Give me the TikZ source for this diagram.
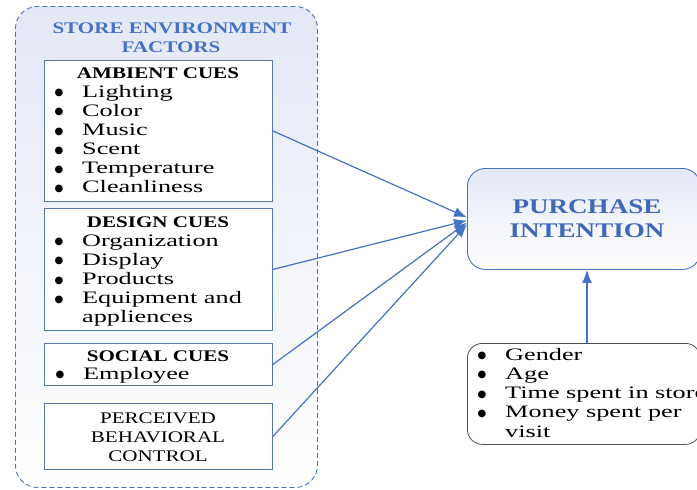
\documentclass[tikz,border=0pt]{standalone}
\usepackage{fontspec}
\setmainfont[FakeStretch=1.3]{Liberation Serif}
\newfontfamily\itemfont[FakeStretch=1.5]{Liberation Serif}
\newfontfamily\symfont{DejaVu Sans}
\usetikzlibrary{arrows.meta,calc}

\definecolor{accent}{HTML}{4472C4}
\definecolor{titleblue}{HTML}{3F68B5}
\definecolor{framecol}{HTML}{5676B3}
\definecolor{lavender}{HTML}{E4E8F6}
\definecolor{demoedge}{HTML}{505050}

\tikzset{
  cuebox/.style={draw=framecol, line width=0.9pt, fill=white, rectangle,
    anchor=north west, inner sep=0pt},
  heading/.style={anchor=base, inner sep=0pt, font=\fontsize{16.2}{19}\bfseries\selectfont},
  item/.style={anchor=base west, inner sep=0pt, font=\fontsize{17.5}{19.2}\itemfont},
  plain/.style={anchor=base, inner sep=0pt, font=\fontsize{16.2}{19}\selectfont},
  bigtitle/.style={anchor=base, inner sep=0pt, text=titleblue,
    font=\fontsize{20.8}{24}\bfseries\selectfont},
  grouptitle/.style={anchor=base, inner sep=0pt, text=accent,
    font=\fontsize{16.2}{19}\bfseries\selectfont},
  link/.style={draw=accent, line width=1.2pt, -{Latex[length=13pt,width=10pt]}},
}
% bullet point followed by its text
\newcommand{\bul}[1]{\makebox[25pt][l]{\hspace{-2.5pt}\raisebox{1.2pt}{\fontsize{10}{10}\symfont ●}}#1}

\begin{document}
\begin{tikzpicture}[x=1pt,y=-1pt]
\useasboundingbox (0,0) rectangle (697,490);
\clip (0,0) rectangle (697,490);

% group frame
\node[draw=accent, dashed, dash pattern=on 5pt off 3pt, line width=0.9pt,
  rounded corners=22pt, top color=lavender, bottom color=white,
  minimum width=302pt, minimum height=481pt, anchor=north west, inner sep=0pt]
  (group) at (15,6) {};
\node[grouptitle] (gt1) at (172,33) {STORE ENVIRONMENT};
\node[grouptitle] (gt2) at (171,52) {FACTORS};

% ambient cues
\node[cuebox, minimum width=228pt, minimum height=141pt] (ambient) at (44,60) {};
\node[heading] (ambh) at (158,78) {AMBIENT CUES};
\foreach \t [count=\i] in {Lighting,Color,Music,Scent,Temperature,Cleanliness}
  \node[item] (amb\i) at (57,{97+19.1*(\i-1)}) {\bul{\t}};

% design cues
\node[cuebox, minimum width=228pt, minimum height=122pt] (design) at (44,208) {};
\node[heading] (desh) at (158,227) {DESIGN CUES};
\foreach \t [count=\i] in {Organization,Display,Products,Equipment and}
  \node[item] (des\i) at (57,{246+19.1*(\i-1)}) {\bul{\t}};
\node[item] (des5) at (82,322) {appliences};

% social cues
\node[cuebox, minimum width=228pt, minimum height=42pt] (social) at (44,343) {};
\node[heading] (soch) at (158,361) {SOCIAL CUES};
\node[item] (soc1) at (58,379) {\bul{Employee}};

% perceived behavioral control
\node[cuebox, minimum width=228pt, minimum height=66pt] (pbc) at (44,403) {};
\node[plain] (pbc1) at (158,423) {PERCEIVED};
\node[plain] (pbc2) at (158,442) {BEHAVIORAL};
\node[plain] (pbc3) at (158,461) {CONTROL};

% outcome
\node[draw=accent, line width=0.9pt, rounded corners=18pt, top color=lavender,
  bottom color=white, minimum width=233pt, minimum height=101pt,
  anchor=north west, inner sep=0pt] (purchase) at (467,168) {};
\node[bigtitle] (pt1) at (587,213) {PURCHASE};
\node[bigtitle] (pt2) at (587,237) {INTENTION};

% control variables
\node[draw=demoedge, line width=0.8pt, rounded corners=15pt, fill=white,
  minimum width=233pt, minimum height=101pt, anchor=north west, inner sep=0pt]
  (demo) at (467,343) {};
\foreach \t [count=\i] in {Gender,Age,Time spent in store,Money spent per}
  \node[item] (dem\i) at (480,{360+19.1*(\i-1)}) {\bul{\t}};
\node[item] (dem5) at (505,437) {visit};

% connectors
\draw[link] (ambient.east) -- ([yshift=1.5pt]purchase.west);
\draw[link] (design.east) -- ([yshift=-1.5pt]purchase.west);
\draw[link] (social.east) -- ([yshift=-3.5pt]purchase.west);
\draw[link] (pbc.east) -- ([yshift=-5.5pt]purchase.west);
\coordinate (axis) at (587,0);
\draw[link] (demo.north -| axis) -- (purchase.south -| axis);
\end{tikzpicture}
\end{document}
